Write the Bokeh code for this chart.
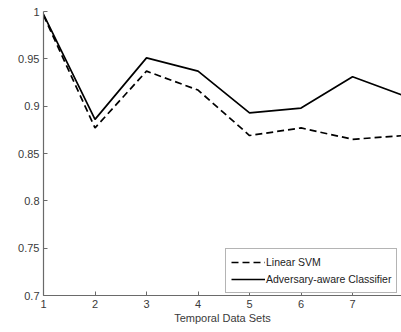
from bokeh.plotting import figure
from bokeh.models import FixedTicker, Range1d, Legend, LegendItem
from bokeh.embed import file_html
from bokeh.resources import INLINE

data_sets = [1, 2, 3, 4, 5, 6, 7, 8]
linear_svm = [0.996, 0.877, 0.937, 0.917, 0.869, 0.877, 0.865, 0.869]
adversary_aware = [0.997, 0.886, 0.951, 0.937, 0.893, 0.898, 0.931, 0.911]
x_ticks = [1, 2, 3, 4, 5, 6, 7, 8]
y_ticks = [0.7, 0.75, 0.8, 0.85, 0.9, 0.95, 1.0]
y_tick_labels = ["0.7", "0.75", "0.8", "0.85", "0.9", "0.95", "1"]
x_label = "Temporal Data Sets"
series_names = ["Linear SVM", "Adversary-aware Classifier"]

FONT = "Liberation Sans"
TXT = "#3a3a3a"
AX = "#6a6a6a"

p = figure(width=401, height=332, output_backend="svg", toolbar_location=None,
           x_range=Range1d(1, 7.95), y_range=Range1d(0.7, 1.0),
           min_border_left=43, min_border_right=0, min_border_top=11, min_border_bottom=37)
p.outline_line_color = None
p.background_fill_color = "white"
p.border_fill_color = "white"
p.xgrid.visible = False
p.ygrid.visible = False

l1 = p.line(data_sets, linear_svm, line_color="black", line_width=1.7, line_dash="7 4")
l2 = p.line(data_sets, adversary_aware, line_color="black", line_width=1.7)

for ax in (p.xaxis[0], p.yaxis[0]):
    ax.axis_line_color = AX
    ax.axis_line_width = 1.2
    ax.major_tick_line_color = AX
    ax.major_tick_in = 4
    ax.major_tick_out = 0
    ax.minor_tick_line_color = None
    ax.major_label_text_font = FONT
    ax.major_label_text_font_size = "11px"
    ax.major_label_text_color = TXT

p.xaxis.ticker = FixedTicker(ticks=x_ticks)
p.yaxis.ticker = FixedTicker(ticks=y_ticks)
p.yaxis.major_label_overrides = {t: s for t, s in zip(y_ticks, y_tick_labels)}
p.yaxis.major_label_standoff = 4
p.xaxis.major_label_standoff = 4
p.xaxis.axis_label = x_label
p.xaxis.axis_label_text_font = FONT
p.xaxis.axis_label_text_font_size = "11px"
p.xaxis.axis_label_text_font_style = "normal"
p.xaxis.axis_label_text_color = TXT
p.xaxis.axis_label_standoff = 1

legend = Legend(items=[LegendItem(label=series_names[0], renderers=[l1]),
                       LegendItem(label=series_names[1], renderers=[l2])],
                location=(182, 2))
legend.label_text_font = FONT
legend.label_text_font_size = "10.5px"
legend.label_text_color = "#222222"
legend.glyph_width = 34
legend.glyph_height = 16
legend.label_height = 16
legend.label_standoff = 1
legend.spacing = 1
legend.padding = 5
legend.margin = 0
legend.border_line_color = AX
legend.border_line_width = 1
legend.background_fill_alpha = 1
p.add_layout(legend)

open("out.html", "w").write(file_html(p, INLINE))
